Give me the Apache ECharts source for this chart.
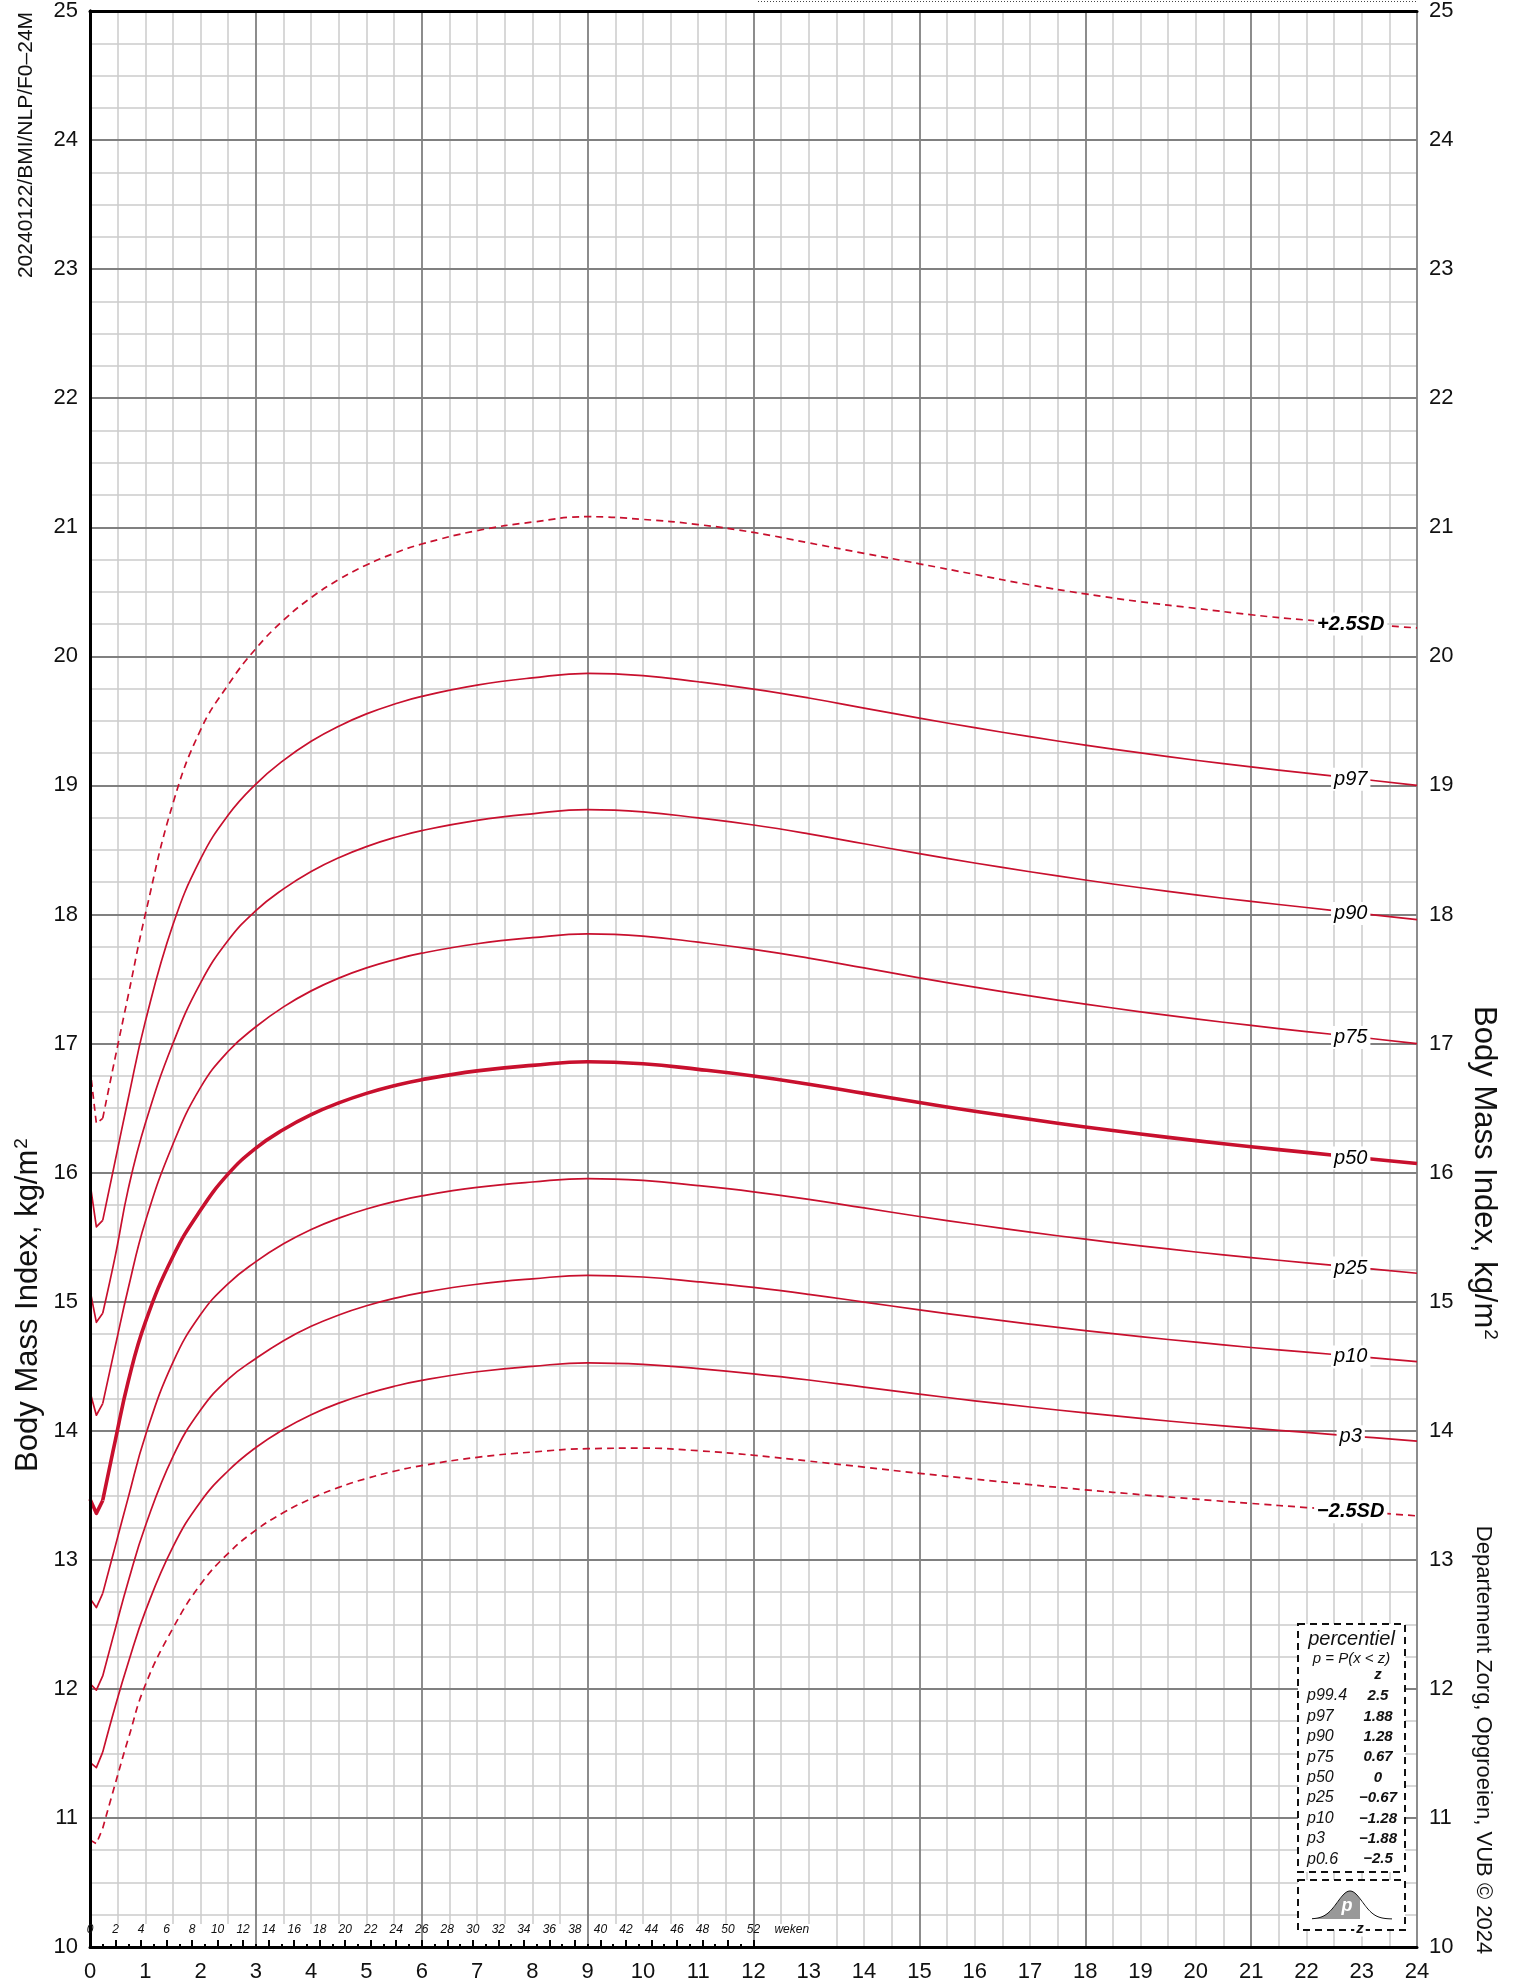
<!DOCTYPE html>
<html><head><meta charset="utf-8">
<script src="https://cdn.jsdelivr.net/npm/echarts@6/dist/echarts.min.js"></script>
<style>html,body{margin:0;padding:0;background:#fff;}#c{width:1514px;height:1986px;}</style>
</head><body><div id="c"></div>
<script>
// ---- data (age in months, BMI kg/m2) ----
const months = [0, 0.115, 0.23, 0.46, 0.69, 1, 1.5, 2, 2.5, 3, 3.5, 4, 4.5, 5, 5.5, 6, 7, 8, 9, 10, 11, 12, 13, 14, 15, 16, 17, 18, 19, 20, 21, 22, 23, 24];
const sdPlus25 = [16.81, 16.38, 16.42, 16.9, 17.37, 18.0, 18.86, 19.43, 19.78, 20.06, 20.28, 20.455, 20.595, 20.708, 20.798, 20.87, 20.974, 21.04, 21.082, 21.061, 21.021, 20.96, 20.879, 20.798, 20.717, 20.635, 20.554, 20.484, 20.423, 20.372, 20.322, 20.281, 20.25, 20.22];
const p97 = [15.92, 15.58, 15.63, 16.1, 16.57, 17.17, 17.92, 18.43, 18.77, 19.01, 19.194, 19.342, 19.459, 19.554, 19.629, 19.69, 19.777, 19.833, 19.868, 19.851, 19.803, 19.746, 19.677, 19.599, 19.521, 19.447, 19.378, 19.312, 19.252, 19.195, 19.143, 19.095, 19.048, 19.0];
const p90 = [15.09, 14.84, 14.91, 15.36, 15.87, 16.38, 17.0, 17.47, 17.8, 18.03, 18.198, 18.333, 18.44, 18.526, 18.595, 18.65, 18.729, 18.78, 18.812, 18.795, 18.748, 18.693, 18.625, 18.548, 18.471, 18.399, 18.331, 18.267, 18.207, 18.152, 18.101, 18.054, 18.007, 17.96];
const p75 = [14.30, 14.12, 14.21, 14.66, 15.1, 15.62, 16.22, 16.66, 16.94, 17.13, 17.284, 17.408, 17.507, 17.586, 17.649, 17.70, 17.773, 17.82, 17.849, 17.832, 17.785, 17.73, 17.662, 17.586, 17.509, 17.437, 17.369, 17.306, 17.246, 17.191, 17.14, 17.093, 17.047, 17.0];
const p50 = [13.47, 13.36, 13.46, 13.93, 14.38, 14.84, 15.35, 15.71, 15.99, 16.19, 16.334, 16.449, 16.54, 16.614, 16.673, 16.72, 16.788, 16.831, 16.859, 16.843, 16.80, 16.749, 16.685, 16.614, 16.543, 16.476, 16.413, 16.354, 16.299, 16.248, 16.20, 16.157, 16.113, 16.07];
const p25 = [12.70, 12.63, 12.74, 13.11, 13.48, 13.96, 14.53, 14.9, 15.14, 15.31, 15.448, 15.559, 15.647, 15.718, 15.775, 15.82, 15.885, 15.927, 15.954, 15.939, 15.899, 15.851, 15.793, 15.726, 15.66, 15.598, 15.539, 15.484, 15.433, 15.385, 15.341, 15.301, 15.26, 15.22];
const p10 = [12.04, 11.99, 12.10, 12.47, 12.83, 13.26, 13.8, 14.16, 14.4, 14.56, 14.698, 14.809, 14.897, 14.968, 15.025, 15.07, 15.135, 15.177, 15.204, 15.191, 15.154, 15.11, 15.057, 14.997, 14.936, 14.88, 14.826, 14.776, 14.729, 14.686, 14.645, 14.609, 14.572, 14.535];
const p3 = [11.43, 11.39, 11.51, 11.87, 12.2, 12.6, 13.1, 13.45, 13.69, 13.87, 14.011, 14.124, 14.214, 14.286, 14.344, 14.39, 14.457, 14.499, 14.526, 14.514, 14.481, 14.441, 14.393, 14.338, 14.284, 14.232, 14.184, 14.138, 14.096, 14.056, 14.02, 13.987, 13.953, 13.92];
const sdMin25 = [10.83, 10.80, 10.92, 11.27, 11.61, 12.03, 12.47, 12.81, 13.05, 13.23, 13.366, 13.474, 13.561, 13.63, 13.686, 13.73, 13.794, 13.835, 13.861, 13.865, 13.845, 13.81, 13.765, 13.718, 13.67, 13.625, 13.582, 13.542, 13.505, 13.47, 13.437, 13.405, 13.373, 13.34];

const curveNames = ['+2.5SD', 'p97', 'p90', 'p75', 'p50', 'p25', 'p10', 'p3', '\u22122.5SD'];
const weekLabelMax = 52;      // weeks labelled 0..52
const weekCount = 104;        // 24 months = 104 weeks
const weekUnit = 'weken';
const legendTitle = 'percentiel';
const legendFormula = 'p = P(x < z)';
const legendPct = ['p99.4', 'p97', 'p90', 'p75', 'p50', 'p25', 'p10', 'p3', 'p0.6'];
const legendZ = ['2.5', '1.88', '1.28', '0.67', '0', '\u22120.67', '\u22121.28', '\u22121.88', '\u22122.5'];
const yTitle = 'Body Mass Index, kg/m{sup|2}';
const codeText = '20240122/BMI/NLP/F0\u201324M';
const creditText = 'Departement Zorg, Opgroeien, VUB \u00a9 2024';

const RED = '#c8102e';
const FONT = '"Liberation Sans", Arial, Helvetica, sans-serif';
const labelIdx = months.indexOf(23);
const kinkIdx = 2; // first week: straight segments before, smooth curve after

function mk(name, vals, width, dashed, bold) {
  const base = {
    type: 'line', name: name, xAxisIndex: 2, yAxisIndex: 0, z: 5,
    symbol: 'circle', symbolSize: 0.01, showSymbol: true, showAllSymbol: true,
    silent: true, animation: false,
    itemStyle: { color: RED },
    lineStyle: { color: RED, width: width, type: dashed ? [7, 5] : 'solid', cap: 'butt', join: 'round' },
    emphasis: { disabled: true }
  };
  const head = Object.assign({}, base, {
    smooth: false,
    data: months.slice(0, kinkIdx + 1).map(function (m, i) { return [m, vals[i]]; })
  });
  const tail = Object.assign({}, base, {
    smooth: 0.45,
    data: months.map(function (m, i) {
      if (i < kinkIdx) return null;
      if (i === labelIdx) {
        return { value: [m, vals[i]], label: {
          show: true, position: 'inside', offset: [-11, 0], formatter: name,
          color: '#000', fontSize: 20, fontStyle: 'italic', fontWeight: bold ? 'bold' : 'normal',
          fontFamily: FONT, backgroundColor: '#fff', padding: [2, 3, 1, 3]
        } };
      }
      return [m, vals[i]];
    }).filter(function (d) { return d !== null; })
  });
  return [head, tail];
}

const weekCats = [];
for (let w = 0; w <= weekCount; w++) weekCats.push(String(w));
const weekUnitIdx = weekLabelMax + 3;

const chart = echarts.init(document.getElementById('c'), null, { renderer: 'canvas' });
const G = { left: 90, right: 97, top: 9, bottom: 39 };

const series = [].concat(
  mk(curveNames[0], sdPlus25, 1.7, true, true),
  mk(curveNames[1], p97, 1.7, false, false),
  mk(curveNames[2], p90, 1.7, false, false),
  mk(curveNames[3], p75, 1.7, false, false),
  mk(curveNames[4], p50, 3.6, false, false),
  mk(curveNames[5], p25, 1.7, false, false),
  mk(curveNames[6], p10, 1.7, false, false),
  mk(curveNames[7], p3, 1.7, false, false),
  mk(curveNames[8], sdMin25, 1.7, true, true)
);

const option = {
  animation: false,
  backgroundColor: '#fff',
  grid: { left: G.left, right: G.right, top: G.top, bottom: G.bottom, containLabel: false },
  xAxis: [
    { type: 'value', min: 0, max: 24, interval: 3, z: 0, position: 'bottom',
      axisLine: { show: false }, axisTick: { show: false }, axisLabel: { show: false },
      splitLine: { show: false }, minorTick: { show: false, splitNumber: 6 },
      minorSplitLine: { show: true, lineStyle: { color: '#cccccc', width: 1.5 } } },
    { type: 'value', min: 0, max: 24, interval: 3, z: 3, position: 'bottom',
      axisLine: { show: false }, axisTick: { show: false }, axisLabel: { show: false },
      splitLine: { show: true, lineStyle: { color: '#808080', width: 1.8 } } },
    { type: 'value', min: 0, max: 24, interval: 1, z: 6, position: 'bottom',
      axisLine: { show: true, lineStyle: { color: '#000', width: 3 } }, axisTick: { show: false },
      axisLabel: { show: true, color: '#111', fontSize: 22, fontFamily: FONT, margin: 14 },
      splitLine: { show: false } },
    { type: 'value', min: 0, max: 24, interval: 24, z: 6, position: 'top',
      axisLine: { show: true, lineStyle: { color: '#000', width: 3 } }, axisTick: { show: false },
      axisLabel: { show: false }, splitLine: { show: false } },
    { type: 'category', data: weekCats, boundaryGap: false, z: 7, position: 'bottom',
      axisLine: { show: false },
      axisTick: { show: true, inside: true, length: 7, lineStyle: { color: '#000', width: 2 },
        interval: function (i) { return i <= weekLabelMax && i % 2 === 0; } },
      axisLabel: { show: true, inside: true, margin: 11, color: '#111', fontSize: 12, fontStyle: 'italic', fontFamily: FONT,
        interval: function (i) { return (i <= weekLabelMax && i % 2 === 0) || i === weekUnitIdx; },
        formatter: function (v, i) { return i === weekUnitIdx ? weekUnit : v; } },
      splitLine: { show: false } },
    { type: 'category', data: weekCats, boundaryGap: false, z: 7, position: 'bottom',
      axisLine: { show: false },
      axisTick: { show: true, inside: true, length: 3, lineStyle: { color: '#000', width: 2 },
        interval: function (i) { return i <= weekLabelMax && i % 2 === 1; } },
      axisLabel: { show: false }, splitLine: { show: false } }
  ],
  yAxis: [
    { type: 'value', min: 10, max: 25, interval: 1, z: 1, position: 'left',
      axisLine: { show: false }, axisTick: { show: false }, axisLabel: { show: false },
      splitLine: { show: true, lineStyle: { color: '#808080', width: 1.8 } },
      minorTick: { show: false, splitNumber: 4 },
      minorSplitLine: { show: true, lineStyle: { color: '#cccccc', width: 1.5 } } },
    { type: 'value', min: 10, max: 25, interval: 1, z: 6, position: 'left',
      axisLine: { show: true, lineStyle: { color: '#000', width: 3 } }, axisTick: { show: false },
      axisLabel: { show: true, color: '#111', fontSize: 22, fontFamily: FONT, margin: 12 },
      splitLine: { show: false } },
    { type: 'value', min: 10, max: 25, interval: 1, z: 6, position: 'right',
      axisLine: { show: true, lineStyle: { color: '#000', width: 3 } }, axisTick: { show: false },
      axisLabel: { show: true, color: '#111', fontSize: 22, fontFamily: FONT, margin: 12 },
      splitLine: { show: false } }
  ],
  series: series
};
chart.setOption(option);

// ---- decorations (band behind week labels, titles, legend box) ----
const px = function (m, v) { return chart.convertToPixel({ xAxisIndex: 2, yAxisIndex: 0 }, [m, v]); };
const bandL = px(0, 10)[0] + 2;
const bandR = px(13.2, 10)[0];
const axisY = px(0, 10)[1];
const els = [];
els.push({ type: 'rect', z: 2, silent: true, shape: { x: bandL, y: axisY - 23, width: bandR - bandL, height: 22 }, style: { fill: '#fff' } });
els.push({ type: 'line', z: 10, silent: true, shape: { x1: 758, y1: 1.5, x2: px(24, 25)[0], y2: 1.5 }, style: { stroke: '#444', lineWidth: 1, lineDash: [1, 2] } });
const richSup = { sup: { fontSize: 19, fontFamily: FONT, verticalAlign: 'top', padding: [0, 0, 0, 1] } };
els.push({ type: 'text', z: 10, silent: true, x: 28, y: 1305, rotation: Math.PI / 2,
  style: { text: yTitle, rich: richSup, fontSize: 31, fontFamily: FONT, fill: '#111', align: 'center', verticalAlign: 'middle' } });
els.push({ type: 'text', z: 10, silent: true, x: 1484, y: 1173, rotation: -Math.PI / 2,
  style: { text: yTitle, rich: richSup, fontSize: 31, fontFamily: FONT, fill: '#111', align: 'center', verticalAlign: 'middle' } });
els.push({ type: 'text', z: 10, silent: true, x: 26, y: 145, rotation: Math.PI / 2,
  style: { text: codeText, fontSize: 21, fontFamily: FONT, fill: '#111', align: 'center', verticalAlign: 'middle' } });
els.push({ type: 'text', z: 10, silent: true, x: 1483, y: 1740, rotation: -Math.PI / 2,
  style: { text: creditText, fontSize: 22, fontFamily: FONT, fill: '#111', align: 'center', verticalAlign: 'middle' } });
// legend box
const bx = 1298, bw = 107;
els.push({ type: 'rect', z: 10, silent: true, shape: { x: bx, y: 1624, width: bw, height: 248 }, style: { fill: '#fff', stroke: '#111', lineWidth: 2, lineDash: [7, 5] } });
els.push({ type: 'rect', z: 10, silent: true, shape: { x: bx, y: 1880, width: bw, height: 50 }, style: { fill: '#fff', stroke: '#111', lineWidth: 2, lineDash: [7, 5] } });
els.push({ type: 'text', z: 11, silent: true, x: bx + bw / 2, y: 1639, style: { text: legendTitle, fontSize: 20, fontStyle: 'italic', fontFamily: FONT, fill: '#111', align: 'center', verticalAlign: 'middle' } });
els.push({ type: 'text', z: 11, silent: true, x: bx + bw / 2, y: 1659, style: { text: legendFormula, fontSize: 15, fontStyle: 'italic', fontFamily: FONT, fill: '#111', align: 'center', verticalAlign: 'middle' } });
els.push({ type: 'text', z: 11, silent: true, x: 1378, y: 1675, style: { text: 'z', fontSize: 15, fontStyle: 'italic', fontWeight: 'bold', fontFamily: FONT, fill: '#111', align: 'center', verticalAlign: 'middle' } });
legendPct.forEach(function (p, i) {
  const y = 1696 + i * 20.4;
  els.push({ type: 'text', z: 11, silent: true, x: 1307, y: y, style: { text: p, fontSize: 16, fontStyle: 'italic', fontFamily: FONT, fill: '#111', align: 'left', verticalAlign: 'middle' } });
  els.push({ type: 'text', z: 11, silent: true, x: 1378, y: y, style: { text: legendZ[i], fontSize: 15, fontStyle: 'italic', fontWeight: 'bold', fontFamily: FONT, fill: '#111', align: 'center', verticalAlign: 'middle' } });
});
// normal curve icon
const cx = 1350, base = 1919, sig = 12.5, amp = 28, zx = 1360;
const pts = [], shade = [[1312, base]];
for (let x = 1312; x <= 1392; x += 1) {
  const y = base - amp * Math.exp(-0.5 * Math.pow((x - cx) / sig, 2));
  pts.push([x, y]);
  if (x <= zx) shade.push([x, y]);
}
shade.push([zx, base]);
els.push({ type: 'polygon', z: 11, silent: true, shape: { points: shade }, style: { fill: '#999', stroke: null } });
els.push({ type: 'polyline', z: 12, silent: true, shape: { points: pts }, style: { stroke: '#111', lineWidth: 1, fill: null } });
els.push({ type: 'text', z: 12, silent: true, x: 1347, y: 1906, style: { text: 'p', fontSize: 18, fontStyle: 'italic', fontWeight: 'bold', fontFamily: FONT, fill: '#fff', align: 'center', verticalAlign: 'middle' } });
els.push({ type: 'text', z: 12, silent: true, x: zx, y: 1929, style: { text: 'z', fontSize: 15, fontStyle: 'italic', fontWeight: 'bold', fontFamily: FONT, fill: '#111', align: 'center', verticalAlign: 'middle', backgroundColor: '#fff', padding: [0, 2] } });

chart.setOption({ graphic: { elements: els } });
</script>
</body></html>
